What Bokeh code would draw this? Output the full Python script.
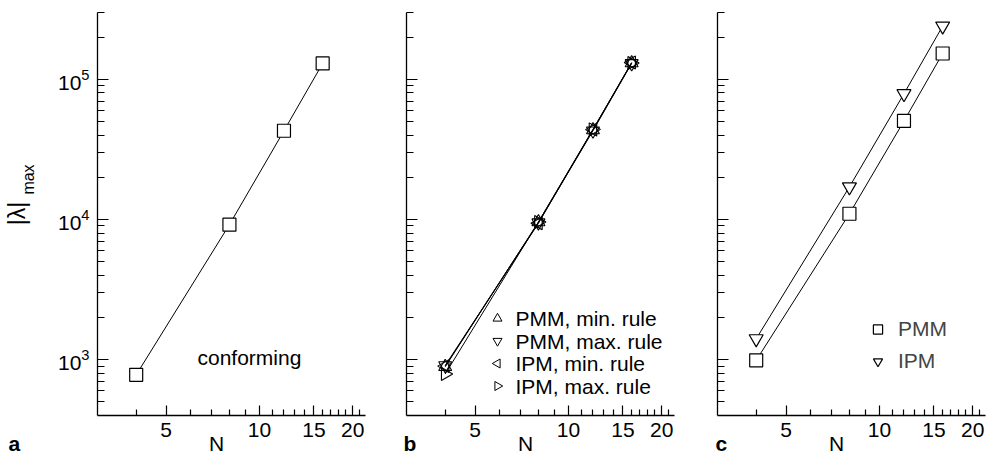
import math

from bokeh.embed import file_html
from bokeh.layouts import row
from bokeh.models import (BasicTickFormatter, CustomJSTickFormatter, FixedTicker,
                          Label, Legend, LegendItem, LogTickFormatter, Range1d)
from bokeh.plotting import figure
from bokeh.resources import INLINE

# ---- data -------------------------------------------------------------
N = [4, 8, 12, 16]

conforming = [780, 9200, 43000, 130000]

pmm_min_rule = [890, 9600, 43500, 131000]
pmm_max_rule = [910, 9500, 43000, 130000]
ipm_min_rule = [900, 9400, 43800, 132000]
ipm_max_rule = [790, 9600, 44000, 131000]

pmm = [990, 11000, 50500, 153000]
ipm = [1410, 17100, 79000, 240000]

x_major = [5, 10, 15, 20]
x_minor = [4, 6, 7, 8, 9, 11, 12, 13, 14, 16, 17, 18, 19, 21]
y_major = [1e3, 1e4, 1e5]
y_minor = [500, 600, 700, 800, 900,
           2e3, 3e3, 4e3, 5e3, 6e3, 7e3, 8e3, 9e3,
           2e4, 3e4, 4e4, 5e4, 6e4, 7e4, 8e4, 9e4,
           2e5, 3e5]
x_lim = (3, 22)
y_lim = (400, 3e5)

FONT = "Liberation Sans"
FS = "21px"
FRAME_W, FRAME_H = 268, 403


def frame_to_data(px, py):
    """Pixel offset from the frame's bottom-left corner -> data coordinates (log axes)."""
    x = x_lim[0] * (x_lim[1] / x_lim[0]) ** (px / FRAME_W)
    y = y_lim[0] * (y_lim[1] / y_lim[0]) ** (py / FRAME_H)
    return x, y


def make_panel(border_left, border_right, show_y_labels):
    p = figure(x_axis_type="log", y_axis_type="log",
               x_range=Range1d(*x_lim), y_range=Range1d(*y_lim),
               frame_width=FRAME_W, frame_height=FRAME_H,
               min_border_left=border_left, min_border_right=border_right,
               min_border_top=12, min_border_bottom=41,
               output_backend="svg", toolbar_location=None)
    p.grid.visible = False
    p.outline_line_color = None

    xa = p.xaxis[0]
    xa.ticker = FixedTicker(ticks=x_major, minor_ticks=x_minor)
    xa.formatter = BasicTickFormatter()
    xa.major_tick_in, xa.major_tick_out = 10, 0
    xa.minor_tick_in, xa.minor_tick_out = 6, 0
    xa.major_label_standoff = 7

    ya = p.yaxis[0]
    ya.ticker = FixedTicker(ticks=y_major, minor_ticks=y_minor)
    ya.major_tick_in, ya.major_tick_out = 11, 0
    ya.minor_tick_in, ya.minor_tick_out = 7, 0
    ya.major_label_standoff = 8
    if show_y_labels:
        ya.formatter = LogTickFormatter()
    else:
        ya.formatter = CustomJSTickFormatter(code="return ''")

    for ax in (xa, ya):
        ax.axis_line_color = "black"
        ax.axis_line_width = 1.3
        ax.major_tick_line_color = "black"
        ax.minor_tick_line_color = "black"
        ax.major_tick_line_width = 1.2
        ax.minor_tick_line_width = 1.2
        ax.major_label_text_font = FONT
        ax.major_label_text_font_size = FS
        ax.major_label_text_color = "black"
    return p


def frame_label(px, py, text, size=FS, bold=False, angle=0.0,
                align="left", baseline="alphabetic"):
    """Text placed at a pixel offset from the frame's bottom-left corner."""
    x, y = frame_to_data(px, py)
    return Label(x=x, y=y, x_units="data", y_units="data", text=text,
                 text_font=FONT, text_font_size=size,
                 text_font_style="bold" if bold else "normal",
                 text_align=align, text_baseline=baseline, angle=angle,
                 text_color="black")


def add_bottom_texts(p, letter, letter_px):
    # side-panel annotations are not clipped to the frame
    p.add_layout(frame_label(119, -28, "N", align="center"), "below")
    p.add_layout(frame_label(letter_px, -27.5, letter, bold=True), "below")


# ---- panel a: conforming ----------------------------------------------
pa = make_panel(97, 5, True)
pa.line(N, conforming, line_color="black", line_width=1)
pa.scatter(N, conforming, marker="square", size=13, fill_color="white",
           line_color="black", line_width=1.2)
pa.add_layout(frame_label(100, 58, "conforming"))
# y-axis title |λ| with subscript "max"
pa.add_layout(frame_label(-81, 202, "|λ|", size="23px", angle=math.pi / 2,
                          align="center", baseline="middle"), "left")
pa.add_layout(frame_label(-69, 236, "max", size="16px", angle=math.pi / 2,
                          align="center", baseline="middle"), "left")
add_bottom_texts(pa, "a", -89)

# ---- panel b: penalty rules -------------------------------------------
pb = make_panel(36, 5, False)
series_b = [
    ("PMM, min. rule", pmm_min_rule, "triangle", 0.0),
    ("PMM, max. rule", pmm_max_rule, "inverted_triangle", 0.0),
    ("IPM, min. rule", ipm_min_rule, "triangle", math.pi / 2),
    ("IPM, max. rule", ipm_max_rule, "triangle", -math.pi / 2),
]
for name, ys, mk, ang in series_b:
    pb.line(N, ys, line_color="black", line_width=1)
    pb.scatter(N, ys, marker=mk, angle=ang, size=13, fill_color=None,
               line_color="black", line_width=1.1)

# legend key for panel b (rotated triangles need their own glyphs)
key_rows_px = [97, 74.5, 52, 29.5]
for (name, _, mk, ang), ky in zip(series_b, key_rows_px):
    kx, kyd = frame_to_data(91, ky)
    pb.scatter([kx], [kyd], marker=mk, angle=ang, size=9, fill_color=None,
               line_color="black", line_width=1)
    pb.add_layout(frame_label(109, ky, name, baseline="middle"))
add_bottom_texts(pb, "b", -3)

# ---- panel c: PMM vs IPM ----------------------------------------------
pc = make_panel(38, 5, False)
pc.line(N, pmm, line_color="black", line_width=1)
r_pmm = pc.scatter(N, pmm, marker="square", size=13, fill_color="white",
                   line_color="black", line_width=1.2)
pc.line(N, ipm, line_color="black", line_width=1)
r_ipm = pc.scatter(N, ipm, marker="inverted_triangle", size=14, fill_color="white",
                   line_color="black", line_width=1.2)
leg_c = Legend(items=[LegendItem(label="PMM", renderers=[r_pmm]),
                      LegendItem(label="IPM", renderers=[r_ipm])],
               location=(149, 38), glyph_width=23, glyph_height=32,
               label_height=32, label_standoff=9, spacing=0, padding=0, margin=0,
               border_line_color=None, background_fill_alpha=0,
               label_text_font=FONT, label_text_font_size=FS)
pc.add_layout(leg_c)
add_bottom_texts(pc, "c", -2)

layout = row(pa, pb, pc, spacing=0)
open("out.html", "w").write(file_html(layout, INLINE))
